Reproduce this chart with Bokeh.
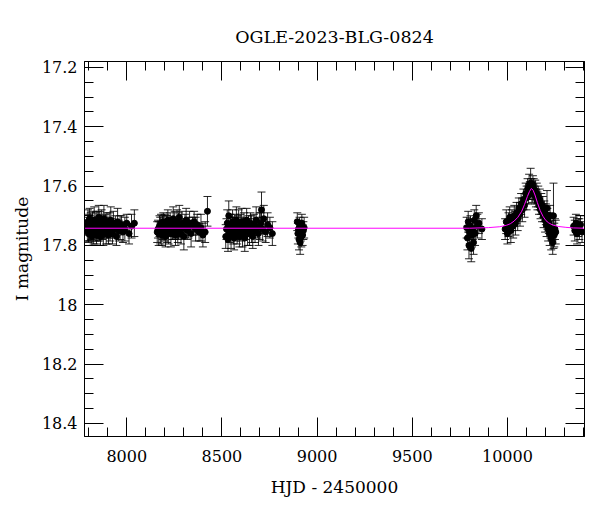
from bokeh.plotting import figure
from bokeh.models import (Range1d, LinearAxis, Whisker, ColumnDataSource,
                          SingleIntervalTicker, TeeHead, CustomJSTickFormatter)
from bokeh.embed import file_html
from bokeh.resources import INLINE

# ---- data (HJD - 2450000, I mag, error) ----
s1_hjd = [7790, 7793, 7796, 7799, 7802, 7805, 7808, 7811, 7814, 7817,
          7820, 7823, 7826, 7829, 7832, 7835, 7838, 7841, 7844, 7847,
          7850, 7853, 7856, 7859, 7862, 7865, 7868, 7871, 7874, 7877,
          7880, 7884, 7888, 7892, 7896, 7900, 7904, 7908, 7912, 7916,
          7920, 7925, 7930, 7935, 7940, 7946, 7952, 7958, 7965, 7972,
          7980, 7990, 8000, 8012, 8025, 8040]
s1_mag = [17.735, 17.750, 17.720, 17.760, 17.740, 17.710, 17.755, 17.730, 17.745, 17.770,
          17.725, 17.740, 17.760, 17.715, 17.735, 17.750, 17.730, 17.765, 17.720, 17.745,
          17.740, 17.705, 17.755, 17.730, 17.770, 17.740, 17.720, 17.750, 17.735, 17.760,
          17.710, 17.745, 17.730, 17.755, 17.720, 17.740, 17.765, 17.730, 17.750, 17.715,
          17.740, 17.760, 17.725, 17.745, 17.735, 17.770, 17.720, 17.750, 17.740, 17.730,
          17.755, 17.745, 17.725, 17.760, 17.735, 17.725]
s1_err = [0.030, 0.035, 0.040, 0.030, 0.045, 0.035, 0.030, 0.040, 0.035, 0.030,
          0.040, 0.030, 0.035, 0.045, 0.030, 0.035, 0.040, 0.030, 0.035, 0.040,
          0.035, 0.040, 0.030, 0.045, 0.030, 0.035, 0.040, 0.030, 0.035, 0.040,
          0.045, 0.030, 0.035, 0.040, 0.030, 0.035, 0.030, 0.040, 0.035, 0.045,
          0.030, 0.035, 0.040, 0.030, 0.035, 0.030, 0.045, 0.035, 0.040, 0.030,
          0.035, 0.040, 0.030, 0.035, 0.040, 0.045]

s2_hjd = [8160, 8164, 8168, 8172, 8176, 8180, 8184, 8188, 8192, 8196,
          8200, 8204, 8208, 8212, 8216, 8220, 8224, 8228, 8232, 8236,
          8240, 8244, 8248, 8252, 8256, 8260, 8264, 8268, 8272, 8276,
          8280, 8285, 8290, 8295, 8300, 8306, 8312, 8318, 8324, 8330,
          8338, 8346, 8354, 8362, 8370, 8380, 8390, 8400, 8412, 8424]
s2_mag = [17.755, 17.745, 17.760, 17.735, 17.750, 17.725, 17.765, 17.740, 17.720, 17.750,
          17.735, 17.770, 17.730, 17.745, 17.715, 17.755, 17.740, 17.725, 17.760, 17.735,
          17.745, 17.710, 17.750, 17.730, 17.765, 17.740, 17.720, 17.755, 17.735, 17.705,
          17.745, 17.760, 17.725, 17.740, 17.770, 17.730, 17.715, 17.750, 17.740, 17.725,
          17.760, 17.735, 17.720, 17.745, 17.730, 17.755, 17.740, 17.765, 17.755, 17.685]
s2_err = [0.035, 0.030, 0.040, 0.035, 0.045, 0.030, 0.035, 0.040, 0.030, 0.035,
          0.040, 0.035, 0.030, 0.045, 0.035, 0.040, 0.030, 0.035, 0.045, 0.030,
          0.035, 0.040, 0.030, 0.045, 0.035, 0.030, 0.040, 0.035, 0.045, 0.040,
          0.030, 0.035, 0.040, 0.030, 0.045, 0.035, 0.040, 0.030, 0.035, 0.040,
          0.045, 0.030, 0.035, 0.040, 0.035, 0.030, 0.045, 0.040, 0.035, 0.050]

s3_hjd = [8520, 8524, 8528, 8532, 8536, 8540, 8544, 8548, 8552, 8556,
          8560, 8564, 8568, 8572, 8576, 8580, 8584, 8588, 8592, 8596,
          8600, 8604, 8608, 8612, 8616, 8620, 8625, 8630, 8635, 8640,
          8645, 8650, 8656, 8662, 8668, 8674, 8680, 8686, 8692, 8698,
          8704, 8708, 8714, 8720, 8730, 8740, 8752, 8765]
s3_mag = [17.770, 17.745, 17.725, 17.780, 17.700, 17.755, 17.735, 17.765, 17.740, 17.720,
          17.750, 17.775, 17.730, 17.745, 17.715, 17.760, 17.740, 17.725, 17.770, 17.735,
          17.750, 17.720, 17.765, 17.740, 17.730, 17.775, 17.745, 17.715, 17.755, 17.735,
          17.760, 17.725, 17.745, 17.770, 17.730, 17.750, 17.715, 17.740, 17.760, 17.735,
          17.725, 17.680, 17.745, 17.710, 17.755, 17.730, 17.740, 17.760]
s3_err = [0.040, 0.035, 0.045, 0.040, 0.050, 0.035, 0.040, 0.045, 0.035, 0.040,
          0.045, 0.040, 0.035, 0.040, 0.045, 0.035, 0.040, 0.045, 0.035, 0.040,
          0.035, 0.045, 0.040, 0.035, 0.040, 0.045, 0.035, 0.040, 0.045, 0.035,
          0.040, 0.035, 0.045, 0.040, 0.035, 0.040, 0.045, 0.035, 0.040, 0.045,
          0.035, 0.060, 0.040, 0.045, 0.035, 0.040, 0.035, 0.040]

s4_hjd = [8896, 8899, 8902, 8905, 8908, 8911, 8914, 8917, 8920, 8924, 8928, 8932]
s4_mag = [17.720, 17.760, 17.745, 17.780, 17.735, 17.790, 17.755, 17.770, 17.725, 17.765, 17.750, 17.740]
s4_err = [0.030, 0.035, 0.030, 0.035, 0.030, 0.040, 0.030, 0.035, 0.030, 0.035, 0.030, 0.035]

s5_hjd = [9786, 9790, 9794, 9798, 9802, 9806, 9810, 9814, 9818, 9822, 9826, 9830, 9836, 9842, 9850, 9866]
s5_mag = [17.740, 17.775, 17.720, 17.800, 17.755, 17.735, 17.810, 17.765, 17.745, 17.790,
          17.715, 17.760, 17.700, 17.735, 17.725, 17.745]
s5_err = [0.035, 0.040, 0.035, 0.045, 0.040, 0.035, 0.045, 0.040, 0.035, 0.040,
          0.035, 0.040, 0.035, 0.040, 0.035, 0.035]

s6_hjd = [9988, 9994, 10000, 10006, 10012, 10018, 10024, 10030, 10036, 10042,
          10048, 10054, 10060, 10066, 10072, 10078, 10084, 10090, 10096, 10101,
          10106, 10110, 10114, 10118, 10122, 10126, 10130, 10134, 10138, 10142,
          10146, 10150, 10154, 10158, 10162, 10166, 10170, 10174, 10178, 10182,
          10186, 10190, 10194, 10198, 10202, 10206, 10210, 10214, 10218, 10222,
          10226, 10230, 10234, 10238, 10242, 10246, 10250, 10254, 10208, 10224]
s6_mag = [17.745, 17.720, 17.760, 17.730, 17.705, 17.750, 17.715, 17.735, 17.700, 17.725,
          17.690, 17.710, 17.675, 17.695, 17.660, 17.680, 17.645, 17.665, 17.625, 17.640,
          17.610, 17.630, 17.595, 17.615, 17.590, 17.605, 17.620, 17.595, 17.610, 17.630,
          17.615, 17.640, 17.625, 17.650, 17.635, 17.665, 17.645, 17.680, 17.660, 17.690,
          17.670, 17.700, 17.685, 17.715, 17.695, 17.730, 17.710, 17.745, 17.725, 17.760,
          17.740, 17.775, 17.750, 17.790, 17.700, 17.765, 17.745, 17.755, 17.675, 17.700]
s6_err = [0.035, 0.040, 0.035, 0.040, 0.035, 0.040, 0.035, 0.040, 0.035, 0.040,
          0.035, 0.040, 0.035, 0.040, 0.035, 0.040, 0.035, 0.040, 0.035, 0.040,
          0.035, 0.030, 0.035, 0.030, 0.050, 0.030, 0.035, 0.030, 0.035, 0.030,
          0.035, 0.030, 0.035, 0.030, 0.035, 0.030, 0.035, 0.030, 0.035, 0.030,
          0.035, 0.040, 0.035, 0.040, 0.035, 0.040, 0.035, 0.040, 0.035, 0.040,
          0.035, 0.040, 0.035, 0.040, 0.110, 0.040, 0.035, 0.040, 0.060, 0.035]

s7_hjd = [10348, 10354, 10360, 10366, 10372, 10378, 10384, 10392]
s7_mag = [17.735, 17.750, 17.725, 17.760, 17.740, 17.745, 17.730, 17.755]
s7_err = [0.030, 0.035, 0.030, 0.035, 0.030, 0.035, 0.030, 0.035]

model_hjd = [7778, 9800, 9900, 9960, 9995, 10015, 10035, 10055, 10075, 10090, 10105,
             10116, 10126, 10135, 10145, 10157, 10172, 10187, 10202, 10217, 10237,
             10267, 10307, 10347, 10405]
model_mag = [17.742, 17.742, 17.740, 17.737, 17.732, 17.727, 17.718, 17.705, 17.685, 17.662,
             17.635, 17.618, 17.608, 17.614, 17.630, 17.655, 17.682, 17.702, 17.716, 17.724,
             17.731, 17.736, 17.739, 17.741, 17.742]

x_ticks_interval = 500
y_ticks_interval = 0.2

# ---- build ----
hjd = s1_hjd + s2_hjd + s3_hjd + s4_hjd + s5_hjd + s6_hjd + s7_hjd
mag = s1_mag + s2_mag + s3_mag + s4_mag + s5_mag + s6_mag + s7_mag
err = s1_err + s2_err + s3_err + s4_err + s5_err + s6_err + s7_err
n = min(len(hjd), len(mag), len(err))
hjd, mag, err = hjd[:n], mag[:n], err[:n]
src = ColumnDataSource(dict(x=hjd, y=mag,
                            lo=[m - e for m, e in zip(mag, err)],
                            hi=[m + e for m, e in zip(mag, err)]))

FONT = "DejaVu Serif"
p = figure(frame_width=500, frame_height=375, output_backend="svg", toolbar_location=None,
           x_range=Range1d(7778, 10405), y_range=Range1d(18.444, 17.18),
           x_axis_location=None, y_axis_location=None,
           min_border_left=84, min_border_right=4, min_border_top=61, min_border_bottom=56,
           title="OGLE-2023-BLG-0824")
p.grid.visible = False
p.outline_line_color = "black"
p.outline_line_width = 1
p.background_fill_color = "white"
p.border_fill_color = "white"

p.title.align = "center"
p.title.text_font = FONT
p.title.text_font_style = "normal"
p.title.text_font_size = "17.5px"
p.title.text_color = "black"
p.title.standoff = 29

bottom = LinearAxis(ticker=SingleIntervalTicker(interval=x_ticks_interval, num_minor_ticks=5),
                    axis_label="HJD - 2450000")
left = LinearAxis(ticker=SingleIntervalTicker(interval=y_ticks_interval, num_minor_ticks=4),
                  formatter=CustomJSTickFormatter(code="return tick.toFixed(1).replace(/\\.0$/, '');"),
                  axis_label="I magnitude")
top = LinearAxis(ticker=SingleIntervalTicker(interval=x_ticks_interval, num_minor_ticks=5),
                 formatter=CustomJSTickFormatter(code="return '';"))
right = LinearAxis(ticker=SingleIntervalTicker(interval=y_ticks_interval, num_minor_ticks=4),
                   formatter=CustomJSTickFormatter(code="return '';"))
p.add_layout(bottom, "below")
p.add_layout(left, "left")
p.add_layout(top, "above")
p.add_layout(right, "right")

for ax in [bottom, left, top, right]:
    ax.major_tick_in = 19
    ax.major_tick_out = 0
    ax.minor_tick_in = 9
    ax.minor_tick_out = 0
    ax.axis_line_color = "black"
    ax.major_tick_line_color = "black"
    ax.minor_tick_line_color = "black"
    ax.major_label_text_font = FONT
    ax.major_label_text_font_size = "16px"
    ax.major_label_text_color = "black"
    ax.axis_label_text_font = FONT
    ax.axis_label_text_font_size = "17px"
    ax.axis_label_text_font_style = "normal"
    ax.axis_label_text_color = "black"
top.major_label_standoff = 0
right.major_label_standoff = 0
bottom.major_label_standoff = 13
bottom.axis_label_standoff = 12
left.major_label_standoff = 7
left.axis_label_standoff = 7

p.add_layout(Whisker(source=src, base="x", lower="lo", upper="hi", dimension="height",
                     line_color="black", line_width=1, line_alpha=0.85,
                     upper_head=TeeHead(size=8, line_color="black", line_alpha=0.85),
                     lower_head=TeeHead(size=8, line_color="black", line_alpha=0.85)))
p.scatter("x", "y", source=src, size=6, color="black")
p.line(model_hjd, model_mag, line_color="#ff00ff", line_width=1)

open("out.html", "w").write(file_html(p, INLINE))
